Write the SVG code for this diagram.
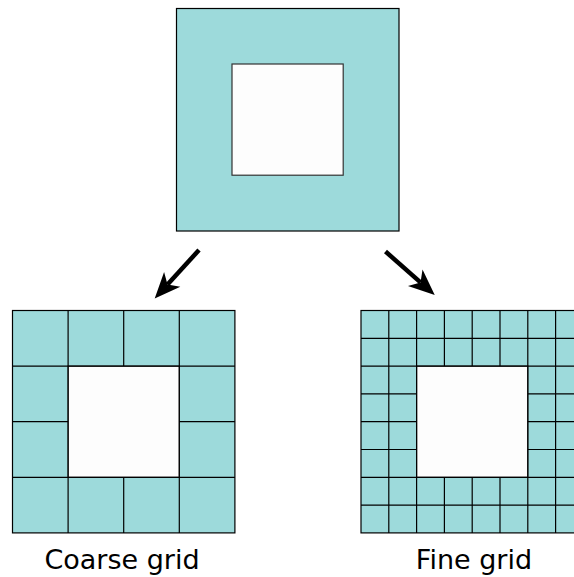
<svg xmlns="http://www.w3.org/2000/svg" width="574" height="577" viewBox="0 0 574 577">
  <style>
    .teal { fill: #9ddadb; stroke: #000; stroke-width: 1.2; }
    .hole { fill: #fdfdfd; stroke: #333; stroke-width: 1.2; }
    .grid { fill: none; stroke: #000; stroke-width: 1.2; }
    .conn { fill: none; stroke: #000; stroke-width: 4.5; }
    .label { font-family: "DejaVu Sans", Verdana, sans-serif; font-size: 27px; fill: #000; text-anchor: middle; }
  </style>
  <defs>
    <marker id="head" markerUnits="userSpaceOnUse" markerWidth="60" markerHeight="60" refX="0" refY="0" orient="auto" viewBox="-30 -30 60 60" overflow="visible">
      <path d="M19,0 L-7,-11 L0,0 L-7,11 Z" fill="#000"/>
    </marker>
  </defs>
  <rect width="574" height="577" fill="#fff"/>

  <g id="original">
    <rect class="teal" x="176.5" y="8.5" width="222.5" height="222.5"/>
    <rect class="hole" x="232" y="64" width="111.2" height="111.2"/>
  </g>

  <g id="coarse-grid">
    <rect class="teal" x="12.5" y="310.5" width="222.4" height="222.4"/>
    <rect class="hole" x="68.1" y="366.1" width="111.2" height="111.2"/>
    <path class="grid" d="M68.1,310.5 V532.9 M179.3,310.5 V532.9 M123.7,310.5 V366.1 M123.7,477.3 V532.9 M12.5,366.1 H234.9 M12.5,477.3 H234.9 M12.5,421.7 H68.1 M179.3,421.7 H234.9"/>
    <text class="label" x="122" y="569">Coarse grid</text>
  </g>

  <g id="fine-grid">
    <rect class="teal" x="361" y="310.5" width="222.4" height="222.4"/>
    <rect class="hole" x="416.6" y="366.1" width="111.2" height="111.2"/>
    <path class="grid" d="M388.8,310.5 V532.9 M416.6,310.5 V532.9 M527.8,310.5 V532.9 M555.6,310.5 V532.9 M444.4,310.5 V366.1 M472.2,310.5 V366.1 M500,310.5 V366.1 M444.4,477.3 V532.9 M472.2,477.3 V532.9 M500,477.3 V532.9 M361,338.3 H583.4 M361,366.1 H583.4 M361,477.3 H583.4 M361,505.1 H583.4 M361,393.9 H416.6 M361,421.7 H416.6 M361,449.5 H416.6 M527.8,393.9 H583.4 M527.8,421.7 H583.4 M527.8,449.5 H583.4"/>
    <text class="label" x="474" y="569">Fine grid</text>
  </g>

  <g id="connectors">
    <path class="conn" d="M199,250 L167.5,284.5" marker-end="url(#head)"/>
    <path class="conn" d="M385.5,251.5 L420.5,282.4" marker-end="url(#head)"/>
  </g>
</svg>
